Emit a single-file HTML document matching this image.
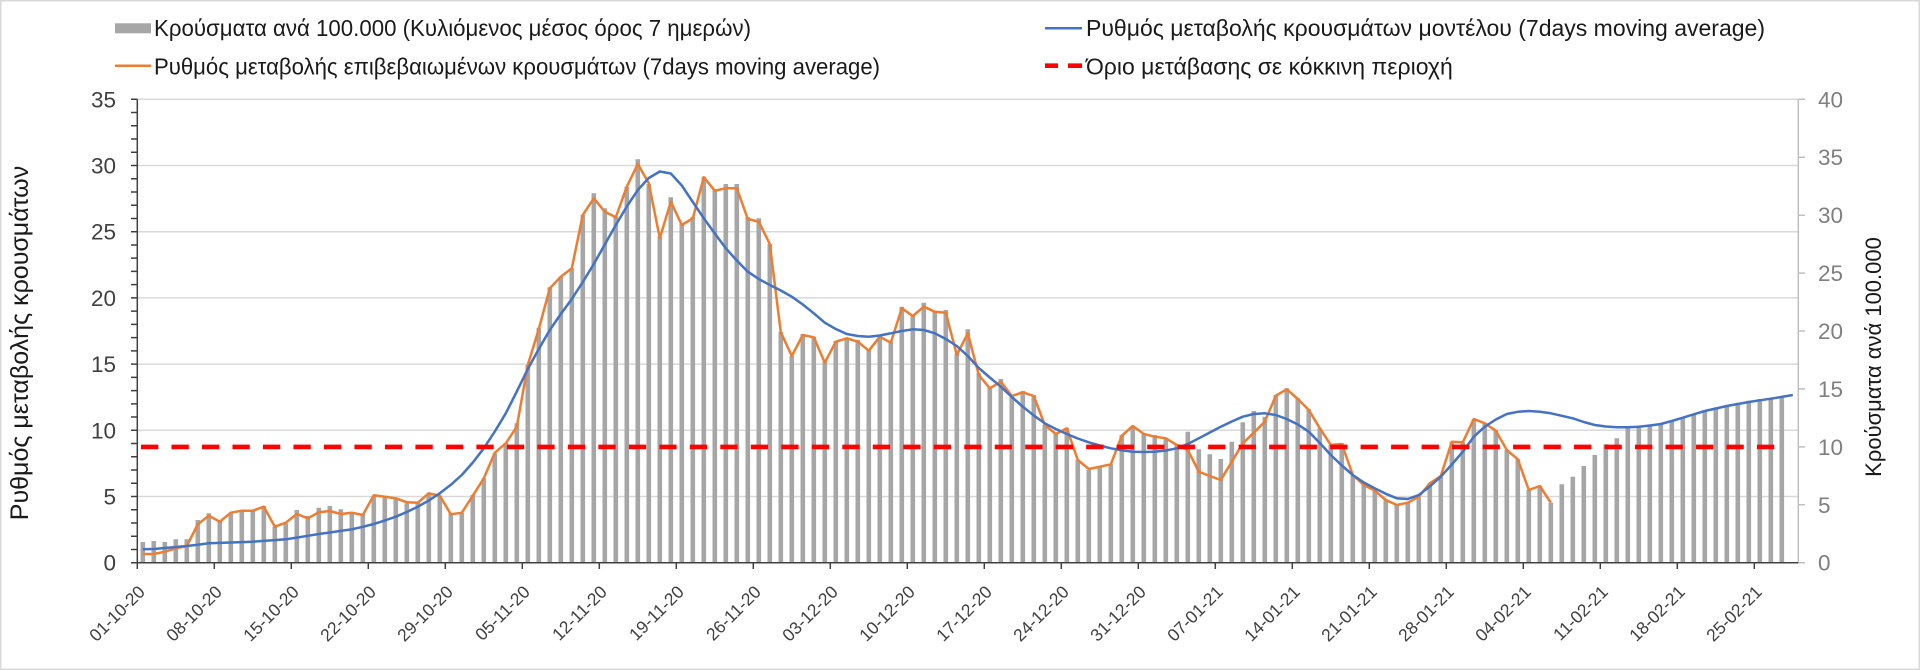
<!DOCTYPE html>
<html><head><meta charset="utf-8"><style>html,body{margin:0;padding:0;background:#fff;}svg{display:block}</style></head>
<body>
<svg width="1920" height="670" viewBox="0 0 1920 670" xmlns="http://www.w3.org/2000/svg" font-family="'Liberation Sans', sans-serif">
<rect x="0.75" y="0.75" width="1918.5" height="668.5" fill="#fff" stroke="#d9d9d9" stroke-width="1.5"/>

<!-- gridlines -->
<path d="M137.3 496.5H1798.3M137.3 430.3H1798.3M137.3 364.1H1798.3M137.3 297.9H1798.3M137.3 231.7H1798.3M137.3 165.5H1798.3M137.3 99.3H1798.3" stroke="#d9d9d9" stroke-width="1.5" fill="none"/>

<!-- right axis -->
<path d="M1798.3 99.3V562.7M1798.3 562.7H1805M1798.3 504.8H1805M1798.3 446.9H1805M1798.3 388.9H1805M1798.3 331H1805M1798.3 273.1H1805M1798.3 215.2H1805M1798.3 157.2H1805M1798.3 99.3H1805" stroke="#bfbfbf" stroke-width="1.5" fill="none"/>

<!-- bars -->
<g transform="translate(142.8 0) scale(11 1)">
<path vector-effect="non-scaling-stroke" stroke="#a6a6a6" stroke-width="4.6" fill="none" d="M0 542V563M1 541V563M2 542V563M3 539.3V563M4 539.3V563M5 520V563M6 513.3V563M7 521V563M8 512.7V563M9 511V563M10 511V563M11 506V563M12 526.7V563M13 523.3V563M14 510V563M15 516V563M16 507.7V563M17 506V563M18 509.3V563M19 512.7V563M20 514.3V563M21 495.7V563M22 497.7V563M23 499.3V563M24 503.3V563M25 502.7V563M26 492.7V563M27 495.7V563M28 513.3V563M29 512.7V563M30 495V563M31 478.3V563M32 453.3V563M33 442.7V563M34 423.3V563M35 365V563M36 327.7V563M37 287.3V563M38 276.7V563M39 268.3V563M40 215V563M41 193.3V563M42 208.3V563M43 216.7V563M44 186.7V563M45 159.3V563M46 184V563M47 236.7V563M48 197.3V563M49 223.3V563M50 216.7V563M51 176.7V563M52 190V563M53 184V563M54 184V563M55 217.3V563M56 218.3V563M57 244V563M58 331.7V563M59 356V563M60 334V563M61 336.7V563M62 361.7V563M63 341V563M64 338.3V563M65 340V563M66 350V563M67 336V563M68 341.7V563M69 306.7V563M70 315V563M71 302.7V563M72 311V563M73 310V563M74 353.3V563M75 329.3V563M76 373.3V563M77 386.7V563M78 379V563M79 395V563M80 391V563M81 395V563M82 425V563M83 433.3V563M84 427.7V563M85 460V563M86 470V563M87 466.7V563M88 464.3V563M89 435V563M90 426.7V563M91 434V563M92 435V563M93 438.3V563M94 445V563M95 431.7V563M96 449.3V563M97 454.3V563M98 459V563M99 441.7V563M100 422.3V563M101 411V563M102 416.7V563M103 395V563M104 388.3V563M105 398.3V563M106 409.3V563M107 428.3V563M108 445V563M109 443.3V563M110 475V563M111 484V563M112 490.7V563M113 499.3V563M114 505V563M115 502.7V563M116 497.3V563M117 483.3V563M118 476.7V563M119 441.7V563M120 442.3V563M121 419.3V563M122 423.3V563M123 430V563M124 450V563M125 459V563M126 490V563M127 486V563M128 502.7V563M129 484.3V563M130 476.7V563M131 466V563M132 455V563M133 444.3V563M134 438.3V563M135 426.7V563M136 426V563M137 425V563M138 423.3V563M139 421V563M140 417.7V563M141 414.3V563M142 410.7V563M143 407.7V563M144 405V563M145 402.7V563M146 400.7V563M147 399V563M148 398.3V563M149 396.7V563"/>

<!-- orange -->
<path vector-effect="non-scaling-stroke" stroke="#ed7d31" stroke-width="2.5" stroke-linejoin="round" fill="none" d="M0 554L1 554L2 551.7L3 548.3L4 546L5 524.3L6 515.7L7 521.7L8 512.7L9 510.7L10 510.7L11 506.7L12 526.7L13 522.7L14 514L15 518.3L16 512.3L17 511L18 514L19 512.7L20 515L21 495.3L22 496.7L23 498.3L24 502.3L25 502.7L26 493.3L27 495.7L28 514.3L29 512.7L30 495.7L31 478.3L32 452.7L33 443.3L34 426.7L35 365L36 329L37 288.3L38 276.7L39 268.3L40 215L41 198.3L42 211.7L43 217.3L44 186.7L45 164L46 183.3L47 238.3L48 201.7L49 225L50 218.3L51 177.3L52 190.7L53 188.3L54 188.3L55 219L56 221.7L57 244L58 332.3L59 356L60 335L61 337.3L62 362.7L63 341.7L64 338.3L65 341.7L66 350.7L67 336.7L68 342.7L69 308.3L70 316L71 306.7L72 311.7L73 312.7L74 355L75 333.3L76 375L77 388.3L78 381.7L79 396L80 392.3L81 396L82 425L83 434L84 428.3L85 460L86 469L87 466.7L88 464.3L89 435.7L90 426L91 434L92 436.7L93 438.3L94 445L95 450L96 471.7L97 476L98 480L99 461.7L100 443.3L101 432.7L102 421.7L103 395.7L104 389.3L105 399L106 410L107 428.3L108 445L109 444L110 475L111 485L112 490.7L113 500L114 505L115 502.7L116 496.7L117 483.3L118 476L119 441.7L120 442.3L121 419L122 423.3L123 430.7L124 450L125 459.3L126 490L127 486L128 502.7"/>

<!-- blue -->
<path vector-effect="non-scaling-stroke" stroke="#4472c4" stroke-width="2.5" stroke-linejoin="round" fill="none" d="M0 549.3L1 549L2 548L3 547L4 546L5 544.7L6 543.3L7 542.9L8 542.5L9 542.1L10 541.7L11 540.9L12 540.1L13 539.3L14 537.6L15 535.8L16 534L17 532.5L18 530.9L19 529.3L20 526.8L21 524L22 520.5L23 516.7L24 512L25 506.7L26 500.5L27 493.3L28 484.8L29 475L30 462.5L31 448.3L32 431.5L33 413.3L34 391.5L35 369L36 349L37 330L38 314L39 299L40 282L41 264L42 244.5L43 225L44 206.5L45 190L46 178L47 171.5L48 173.5L49 185.5L50 202L51 218.3L52 233.5L53 248.3L54 260.5L55 271.7L56 279L57 285L58 290.5L59 296.7L60 304.5L61 313.3L62 322.7L63 329L64 334L65 336L66 336.7L67 335.5L68 333.3L69 331L70 329.3L71 330L72 333.3L73 339L74 346L75 356L76 368L77 377.5L78 386.7L79 397L80 406.7L81 415.5L82 423.3L83 429L84 434L85 438.5L86 442.3L87 445.5L88 448.3L89 450.3L90 451.7L91 452L92 451.7L93 450.5L94 448.3L95 444L96 438.3L97 432.5L98 426.7L99 421.5L100 416.7L101 414L102 413.3L103 415L104 419L105 424.5L106 431.7L107 443L108 455L109 465.5L110 475L111 482.5L112 488.3L113 493.8L114 498.3L115 499L116 495L117 486.5L118 476.7L119 464.5L120 451.7L121 436.7L122 426.7L123 419.5L124 414L125 411.8L126 411L127 411.8L128 413.3L129 415.8L130 418.3L131 422L132 425L133 426.5L134 427.3L135 427.2L136 426.7L137 425.5L138 424L139 421L140 417.7L141 414.3L142 411L143 408.5L144 406L145 404L146 402L147 400.3L148 398.7L149 396.9L150 395"/>
</g>

<!-- red threshold -->
<path d="M141 446.9H1775" stroke="#ff0000" stroke-width="4.6" stroke-dasharray="17.3 13.19" fill="none"/>

<!-- left axis -->
<path d="M137.3 99.3V563.4" stroke="#404040" stroke-width="1.5" fill="none"/>
<path d="M134.15 563.45V98.5" stroke="#404040" stroke-width="6.3" stroke-dasharray="1.5 11.74" fill="none"/>
<!-- x axis -->
<path d="M136.5 562.7H1798.3M137.3 562.7V569M214.3 562.7V569M291.3 562.7V569M368.3 562.7V569M445.3 562.7V569M522.3 562.7V569M599.3 562.7V569M676.3 562.7V569M753.3 562.7V569M830.3 562.7V569M907.3 562.7V569M984.3 562.7V569M1061.3 562.7V569M1138.3 562.7V569M1215.3 562.7V569M1292.3 562.7V569M1369.3 562.7V569M1446.3 562.7V569M1523.3 562.7V569M1600.3 562.7V569M1677.3 562.7V569M1754.3 562.7V569" stroke="#404040" stroke-width="1.5" fill="none"/>

<!-- left labels -->
<g font-size="22.5" fill="#404040" text-anchor="end">
<text x="116" y="570.7">0</text>
<text x="116" y="504.5">5</text>
<text x="116" y="438.3">10</text>
<text x="116" y="372.1">15</text>
<text x="116" y="305.9">20</text>
<text x="116" y="239.7">25</text>
<text x="116" y="173.5">30</text>
<text x="116" y="107.3">35</text>
</g>

<!-- right labels -->
<g font-size="22.5" fill="#7f7f7f">
<text x="1818" y="570.7">0</text>
<text x="1818" y="512.8">5</text>
<text x="1818" y="454.9">10</text>
<text x="1818" y="396.9">15</text>
<text x="1818" y="339">20</text>
<text x="1818" y="281.1">25</text>
<text x="1818" y="223.2">30</text>
<text x="1818" y="165.2">35</text>
<text x="1818" y="107.3">40</text>
</g>

<!-- date labels -->
<g font-size="17.5" fill="#404040" text-anchor="end">
<text x="146" y="593" transform="rotate(-45 146 593)">01-10-20</text>
<text x="223" y="593" transform="rotate(-45 223 593)">08-10-20</text>
<text x="300" y="593" transform="rotate(-45 300 593)">15-10-20</text>
<text x="377" y="593" transform="rotate(-45 377 593)">22-10-20</text>
<text x="454" y="593" transform="rotate(-45 454 593)">29-10-20</text>
<text x="531" y="593" transform="rotate(-45 531 593)">05-11-20</text>
<text x="608" y="593" transform="rotate(-45 608 593)">12-11-20</text>
<text x="685" y="593" transform="rotate(-45 685 593)">19-11-20</text>
<text x="762" y="593" transform="rotate(-45 762 593)">26-11-20</text>
<text x="839" y="593" transform="rotate(-45 839 593)">03-12-20</text>
<text x="916" y="593" transform="rotate(-45 916 593)">10-12-20</text>
<text x="993" y="593" transform="rotate(-45 993 593)">17-12-20</text>
<text x="1070" y="593" transform="rotate(-45 1070 593)">24-12-20</text>
<text x="1147" y="593" transform="rotate(-45 1147 593)">31-12-20</text>
<text x="1224" y="593" transform="rotate(-45 1224 593)">07-01-21</text>
<text x="1301" y="593" transform="rotate(-45 1301 593)">14-01-21</text>
<text x="1378" y="593" transform="rotate(-45 1378 593)">21-01-21</text>
<text x="1455" y="593" transform="rotate(-45 1455 593)">28-01-21</text>
<text x="1532" y="593" transform="rotate(-45 1532 593)">04-02-21</text>
<text x="1609" y="593" transform="rotate(-45 1609 593)">11-02-21</text>
<text x="1686" y="593" transform="rotate(-45 1686 593)">18-02-21</text>
<text x="1763" y="593" transform="rotate(-45 1763 593)">25-02-21</text>
</g>

<!-- axis titles -->
<text x="28" y="343" font-size="25" fill="#1a1a1a" text-anchor="middle" transform="rotate(-90 28 343)">Ρυθμός μεταβολής κρουσμάτων</text>
<text x="1881" y="357" font-size="22" fill="#1a1a1a" text-anchor="middle" transform="rotate(-90 1881 357)">Κρούσματα ανά 100.000</text>

<!-- legend -->
<rect x="115" y="23.3" width="36" height="10" fill="#a6a6a6"/>
<text x="154" y="36" font-size="23" fill="#1a1a1a" textLength="597" lengthAdjust="spacingAndGlyphs">Κρούσματα ανά 100.000 (Κυλιόμενος μέσος όρος 7 ημερών)</text>
<path d="M115 65.7H151" stroke="#ed7d31" stroke-width="2.5"/>
<text x="154" y="74.5" font-size="23" fill="#1a1a1a" textLength="726" lengthAdjust="spacingAndGlyphs">Ρυθμός μεταβολής επιβεβαιωμένων κρουσμάτων (7days moving average)</text>
<path d="M1045 28.3H1082" stroke="#4472c4" stroke-width="2.5"/>
<text x="1086" y="36" font-size="23" fill="#1a1a1a">Ρυθμός μεταβολής κρουσμάτων μοντέλου (7days moving average)</text>
<path d="M1045 65.7H1058M1068 65.7H1082" stroke="#ff0000" stroke-width="4.6"/>
<text x="1086" y="74.5" font-size="23" fill="#1a1a1a">Όριο μετάβασης σε κόκκινη περιοχή</text>
</svg>
</body></html>
